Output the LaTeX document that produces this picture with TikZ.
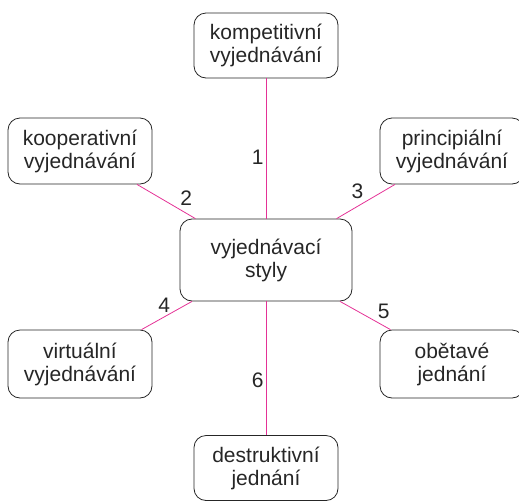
\documentclass[tikz,border=0pt]{standalone}
\usepackage{fontspec}
\setmainfont{Liberation Sans}
\usepackage{xcolor}
\definecolor{spokecol}{RGB}{228,50,150}

\begin{document}
\begin{tikzpicture}[x=1pt, y=-1pt,
    every node/.style={font=\fontsize{21}{23}\selectfont, text=black!85},
    box/.style={draw=black!85, line width=0.8pt, rounded corners=12pt,
      align=center, minimum width=144pt, minimum height=66pt, inner sep=0pt},
    spoke/.style={draw=spokecol, line width=0.8pt},
    num/.style={inner sep=2pt}]
  \useasboundingbox (0,0) rectangle (519,501);
  \node[box, minimum width=172pt, minimum height=82pt] (styly) at (266,260) {vyjednávací\\styly};
  \node[box, minimum height=65pt] (komp) at (266,45.5) {kompetitivní\\vyjednávání};
  \node[box] (koop) at (80,151) {kooperativní\\vyjednávání};
  \node[box] (princ) at (452,151) {principiální\\vyjednávání};
  \node[box, minimum height=68pt] (virt) at (80,364) {virtuální\\vyjednávání};
  \node[box, minimum height=68pt] (obet) at (452,364) {obětavé\\jednání};
  \node[box, minimum height=65pt] (destr) at (266,468) {destruktivní\\jednání};
  \draw[spoke] (styly) -- node[num, pos=0.44, left] {1} (komp);
  \draw[spoke] (styly) -- node[num, pos=0.3, above right] {2} (koop);
  \draw[spoke] (styly) -- node[num, pos=0.5, above left] {3} (princ);
  \draw[spoke] (styly) -- node[num, pos=0.55, above=2pt] {4} (virt);
  \draw[spoke] (styly) -- node[num, pos=0.7, above right] {5} (obet);
  \draw[spoke] (styly) -- node[num, pos=0.59, left] {6} (destr);
\end{tikzpicture}
\end{document}
